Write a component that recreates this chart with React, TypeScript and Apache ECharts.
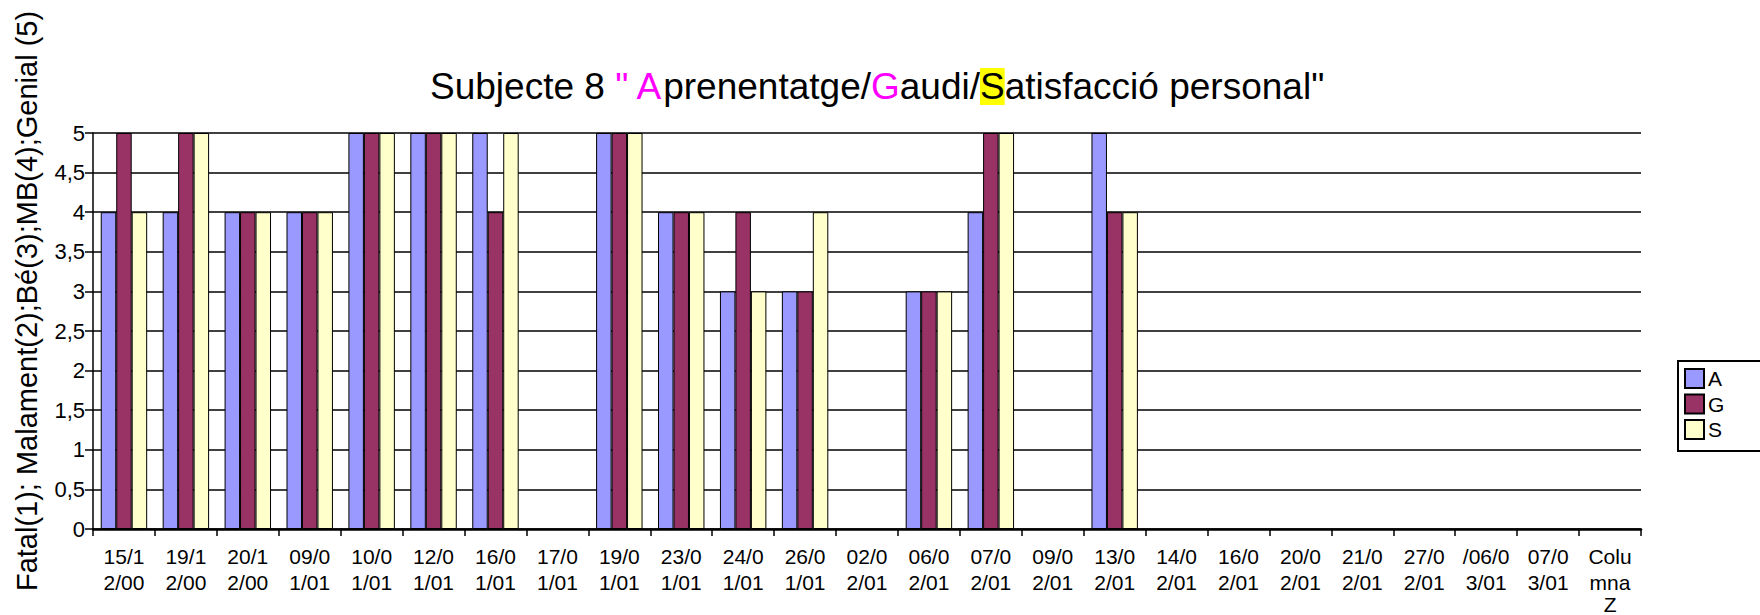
import React, { useEffect, useRef } from "react";
import * as echarts from "echarts";

const categories = [
  "15/1\n2/00", "19/1\n2/00", "20/1\n2/00", "09/0\n1/01", "10/0\n1/01", "12/0\n1/01",
  "16/0\n1/01", "17/0\n1/01", "19/0\n1/01", "23/0\n1/01", "24/0\n1/01", "26/0\n1/01",
  "02/0\n2/01", "06/0\n2/01", "07/0\n2/01", "09/0\n2/01", "13/0\n2/01", "14/0\n2/01",
  "16/0\n2/01", "20/0\n2/01", "21/0\n2/01", "27/0\n2/01", "/06/0\n3/01", "07/0\n3/01",
  "Colu\nmna\nZ",
];

const seriesA = [4, 4, 4, 4, 5, 5, 5, null, 5, 4, 3, 3, null, 3, 4, null, 5, null, null, null, null, null, null, null, null];
const seriesG = [5, 5, 4, 4, 5, 5, 4, null, 5, 4, 4, 3, null, 3, 5, null, 4, null, null, null, null, null, null, null, null];
const seriesS = [4, 5, 4, 4, 5, 5, 5, null, 5, 4, 3, 4, null, 3, 5, null, 4, null, null, null, null, null, null, null, null];

const seriesNames = ["A", "G", "S"];
const seriesColors = ["#9999FF", "#993366", "#FFFFCC"];

const yTicks = { min: 0, max: 5, interval: 0.5 };

const yAxisTitle = "Fatal(1); Malament(2);Bé(3);MB(4);Genial (5)";

const FONT = "'Liberation Sans', Arial, sans-serif";

export default function App() {
  const ref = useRef<HTMLDivElement>(null);
  useEffect(() => {
    if (!ref.current) return;
    const chart = echarts.init(ref.current, null, { renderer: "svg" });
    const data = [seriesA, seriesG, seriesS];
    const tr = { fontSize: 37, fontWeight: "normal", fontFamily: FONT, lineHeight: 33 };
    chart.setOption({
      animation: false,
      backgroundColor: "#fff",
      textStyle: { fontFamily: FONT },
      title: {
        text: "{n|Subjecte 8 }{m|\" A}{n|prenentatge/}{m|G}{n|audi/}{h|S}{n|atisfacció personal\"}",
        left: 430,
        top: 70,
        padding: 0,
        textStyle: {
          fontWeight: "normal",
          rich: {
            n: { ...tr, color: "#000" },
            m: { ...tr, color: "#FF00FF" },
            h: { ...tr, color: "#000", backgroundColor: "#FFFF00" },
          },
        },
      },
      graphic: [
        {
          type: "rect",
          shape: { x: 1678, y: 361, width: 120, height: 90 },
          style: { fill: "#fff", stroke: "#000", lineWidth: 2 },
          z: 1,
        },
        {
          type: "text",
          x: 27,
          y: 301,
          rotation: Math.PI / 2,
          style: {
            text: yAxisTitle,
            font: `29px ${FONT}`,
            fill: "#000",
            textAlign: "center",
            textVerticalAlign: "middle",
          },
        },
      ],
      legend: {
        orient: "vertical",
        left: 1684,
        top: 368,
        padding: 0,
        z: 10,
        itemWidth: 19,
        itemHeight: 19,
        itemGap: 4.5,
        icon: "rect",
        textStyle: { fontSize: 21, color: "#000", fontFamily: FONT, padding: [0, 0, 0, -1] },
        data: seriesNames,
      },
      grid: {
        left: 93,
        right: 119,
        top: 133,
        bottom: 86,
        containLabel: false,
        outerBoundsMode: "none",
      },
      xAxis: {
        type: "category",
        data: categories,
        boundaryGap: true,
        axisLine: { show: true, lineStyle: { color: "#000", width: 2.5 } },
        axisTick: { show: true, length: 7, alignWithLabel: false, interval: 0, lineStyle: { color: "#000", width: 1.5 } },
        axisLabel: {
          interval: 0,
          fontSize: 21,
          lineHeight: 26,
          color: "#000",
          margin: 14,
          fontFamily: FONT,
          formatter: (v: string) => {
            const lines = v.split("\n");
            return lines.map((l, i) => (i < 2 ? `{a|${l}}` : `{z|${l}}`)).join("\n");
          },
          rich: {
            a: { fontSize: 21, lineHeight: 26, color: "#000", fontFamily: FONT },
            z: { fontSize: 21, lineHeight: 18, color: "#000", fontFamily: FONT },
          },
        },
        splitLine: { show: false },
      },
      yAxis: {
        type: "value",
        min: yTicks.min,
        max: yTicks.max,
        interval: yTicks.interval,
        axisLine: { show: true, lineStyle: { color: "#000", width: 1.5 } },
        axisTick: { show: true, length: 8, lineStyle: { color: "#000", width: 1.5 } },
        axisLabel: {
          fontSize: 22,
          color: "#000",
          margin: 8,
          fontFamily: FONT,
          formatter: (v: number) => String(v).replace(".", ","),
        },
        splitLine: { show: true, lineStyle: { color: "#000", width: 1.5 } },
      },
      series: seriesNames.map((name, i) => ({
        name,
        type: "bar",
        data: data[i],
        barGap: "0%",
        barCategoryGap: "25%",
        itemStyle: { color: seriesColors[i], borderColor: "#000", borderWidth: 1 },
      })),
    });
    return () => chart.dispose();
  }, []);
  return <div ref={ref} style={{ width: 1760, height: 615, position: "absolute", left: 0, top: 0 }} />;
}
